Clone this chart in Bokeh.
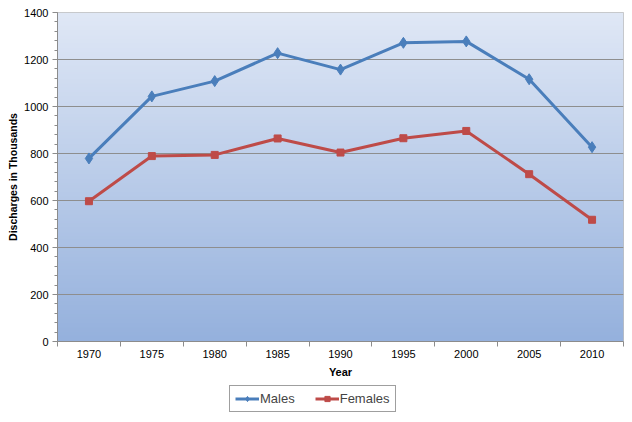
import numpy as np
from bokeh.plotting import figure
from bokeh.layouts import column
from bokeh.models import FixedTicker, Range1d, Legend, LegendItem
from bokeh.embed import file_html
from bokeh.resources import INLINE

years = ["1970", "1975", "1980", "1985", "1990", "1995", "2000", "2005", "2010"]
males = [779, 1043, 1108, 1227, 1157, 1271, 1277, 1116, 827]
females = [597, 789, 794, 864, 804, 865, 896, 712, 518]
y_ticks = [0, 200, 400, 600, 800, 1000, 1200, 1400]

xs = list(range(len(years)))
FONT = "Liberation Sans"
blue = "#4a7ebb"
red = "#be4b48"

W = 624
p = figure(width=W, height=380, output_backend="svg", toolbar_location=None,
           x_range=Range1d(-0.5, len(years) - 0.5), y_range=Range1d(0, 1400),
           min_border_left=57, min_border_right=1, min_border_top=12, min_border_bottom=39)

# gradient background of the plot area
n = 256
t = np.linspace(0, 1, n)[:, None]  # row 0 = bottom
top = np.array([224, 232, 246])
bot = np.array([149, 177, 221])
cols = (bot + (top - bot) * t).astype(np.uint32)
img = np.empty((n, 1), dtype=np.uint32)
view = img.view(dtype=np.uint8).reshape((n, 1, 4))
view[:, 0, 0] = cols[:, 0]
view[:, 0, 1] = cols[:, 1]
view[:, 0, 2] = cols[:, 2]
view[:, 0, 3] = 255
p.image_rgba(image=[img], x=-0.5, y=0, dw=len(years), dh=1400, level="image")

p.outline_line_color = "#bfbfbf"
p.background_fill_color = "white"
p.border_fill_color = "white"

p.xgrid.visible = False
p.ygrid.ticker = FixedTicker(ticks=y_ticks)
p.ygrid.grid_line_color = "#8e8e8e"
p.ygrid.grid_line_width = 1

p.xaxis.ticker = FixedTicker(ticks=xs, minor_ticks=[i - 0.5 for i in range(len(years) + 1)])
p.xaxis.major_label_overrides = {i: y for i, y in enumerate(years)}
p.xaxis.major_tick_out = 0
p.xaxis.major_tick_in = 0
p.xaxis.minor_tick_out = 5
p.xaxis.minor_tick_in = 0
p.xaxis.minor_tick_line_color = "#8c8c8c"
p.xaxis.axis_line_color = "#8c8c8c"
p.xaxis.axis_label = "Year"

p.yaxis.ticker = FixedTicker(ticks=y_ticks, minor_ticks=list(range(0, 1401, 40)))
p.yaxis.major_tick_out = 5
p.yaxis.major_tick_in = 0
p.yaxis.minor_tick_out = 3
p.yaxis.minor_tick_in = 0
p.yaxis.axis_line_color = "#8c8c8c"
p.yaxis.major_tick_line_color = "#8c8c8c"
p.yaxis.minor_tick_line_color = "#8c8c8c"
p.yaxis.axis_label = "Discharges in Thousands"

for ax in (p.xaxis, p.yaxis):
    ax.major_label_text_font = FONT
    ax.major_label_text_font_size = "11px"
    ax.major_label_text_color = "#000000"
    ax.axis_label_text_font = FONT
    ax.axis_label_text_font_style = "bold"
    ax.axis_label_text_color = "#000000"
p.xaxis.axis_label_text_font_size = "11px"
p.yaxis.axis_label_text_font_size = "10.5px"
p.xaxis.major_label_standoff = 3
p.xaxis.axis_label_standoff = 5
p.yaxis.major_label_standoff = 4
p.yaxis.axis_label_standoff = 2

p.line(xs, males, line_color=blue, line_width=3)
p.scatter(xs, males, marker="diamond", size=11, fill_color=blue, line_color=blue)
p.line(xs, females, line_color=red, line_width=3)
p.scatter(xs, females, marker="square", size=7, fill_color=red, line_color=red)

# legend strip below the chart (its series lie outside this strip's visible range)
lg = figure(width=W, height=34, output_backend="svg", toolbar_location=None,
            x_range=Range1d(-0.5, len(years) - 0.5), y_range=Range1d(-20, -10),
            x_axis_location=None, y_axis_location=None,
            min_border_left=0, min_border_right=0, min_border_top=0, min_border_bottom=0,
            outline_line_color=None)
lg.grid.visible = False
lm1 = lg.line(xs, males, line_color=blue, line_width=3)
lk1 = lg.scatter(xs, males, marker="diamond", size=8, fill_color=blue, line_color=blue)
lm2 = lg.line(xs, females, line_color=red, line_width=3)
lk2 = lg.scatter(xs, females, marker="square", size=6, fill_color=red, line_color=red)
legend = Legend(items=[LegendItem(label="Males", renderers=[lm1, lk1]),
                       LegendItem(label="Females", renderers=[lm2, lk2])],
                orientation="horizontal", location=(172, 2),
                label_text_font=FONT, label_text_font_size="13px",
                glyph_width=24, glyph_height=13, label_height=13, label_standoff=1,
                spacing=20, padding=5, margin=0,
                border_line_color="#404040", border_line_width=1,
                background_fill_alpha=1)
lg.add_layout(legend, "center")

layout = column(p, lg, spacing=0)
open("out.html", "w").write(file_html(layout, INLINE))
